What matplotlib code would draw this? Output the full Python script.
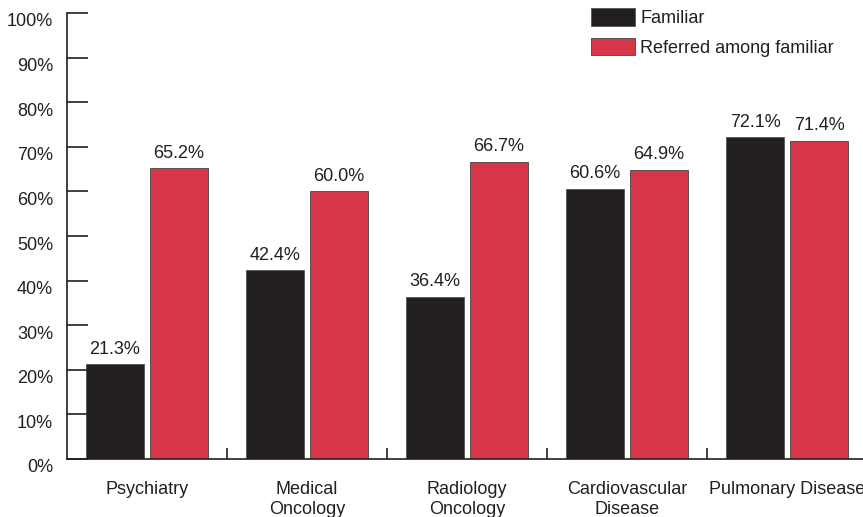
import matplotlib
matplotlib.use("Agg")
import matplotlib.pyplot as plt
import matplotlib.transforms as mtransforms
import numpy as np

categories = ["Psychiatry", "Medical\nOncology", "Radiology\nOncology", "Cardiovascular\nDisease", "Pulmonary Disease"]
familiar = [21.3, 42.4, 36.4, 60.6, 72.1]
referred = [65.2, 60.0, 66.7, 64.9, 71.4]
series_names = ["Familiar", "Referred among familiar"]
yticks = [0, 10, 20, 30, 40, 50, 60, 70, 80, 90, 100]
ytick_labels = [f"{v}%" for v in yticks]

plt.rcParams['font.family'] = ['Liberation Sans', 'DejaVu Sans']
TXT = '#231f20'
BLACK = '#231f20'
RED = '#d73648'
FS = 13

fig = plt.figure(figsize=(8.63, 5.17), dpi=100)
ax = fig.add_axes([67/863, 58/517, 1 - 67/863, (459-13)/517])

x = np.arange(len(categories))
w = 0.3625
ax.bar(x - 0.2, familiar, w, color=BLACK, edgecolor='#555555', linewidth=0.6, label=series_names[0])
ax.bar(x + 0.2, referred, w, color=RED, edgecolor='#444444', linewidth=0.6, label=series_names[1])

for xi, v in zip(x - 0.2, familiar):
    ax.annotate(f"{v:.1f}%", (xi, v), xytext=(0, 4.5), textcoords='offset points',
                ha='center', va='bottom', fontsize=FS, color=TXT)
for xi, v in zip(x + 0.2, referred):
    ax.annotate(f"{v:.1f}%", (xi, v), xytext=(0, 4.5), textcoords='offset points',
                ha='center', va='bottom', fontsize=FS, color=TXT)

ax.set_xlim(-0.5, 4.475)
ax.set_ylim(0, 100)

for s in ['top', 'right']:
    ax.spines[s].set_visible(False)
for s in ['left', 'bottom']:
    ax.spines[s].set_color('#231f20')
    ax.spines[s].set_linewidth(1.2)

ax.set_yticks(yticks)
ax.set_yticklabels(ytick_labels)
ax.tick_params(axis='y', direction='in', length=15, width=1.2, color='#231f20',
               pad=10, labelsize=FS, labelcolor=TXT)
offset = mtransforms.ScaledTranslation(0, -7/100, fig.dpi_scale_trans)
for lab in ax.get_yticklabels():
    lab.set_transform(lab.get_transform() + offset)

ax.set_xticks(np.arange(0.5, len(categories) - 0.5, 1.0))
ax.set_xticks(x, minor=True)
ax.set_xticklabels([])
ax.set_xticklabels(categories, minor=True)
ax.tick_params(axis='x', which='major', direction='in', length=8, width=1.2, color='#231f20')
ax.tick_params(axis='x', which='minor', length=0, pad=16, labelsize=FS, labelcolor=TXT)
for lab in ax.get_xticklabels(minor=True):
    lab.set_linespacing(1.2)

leg = ax.legend(loc='upper left', bbox_to_anchor=(591/863, 1 - 8/517), bbox_transform=fig.transFigure,
                frameon=False, fontsize=FS, handlelength=2.44, handleheight=1.12,
                handletextpad=0.28, labelspacing=0.6, borderpad=0, borderaxespad=0)
for t in leg.get_texts():
    t.set_color(TXT)

fig.savefig("out.png", dpi=100)
